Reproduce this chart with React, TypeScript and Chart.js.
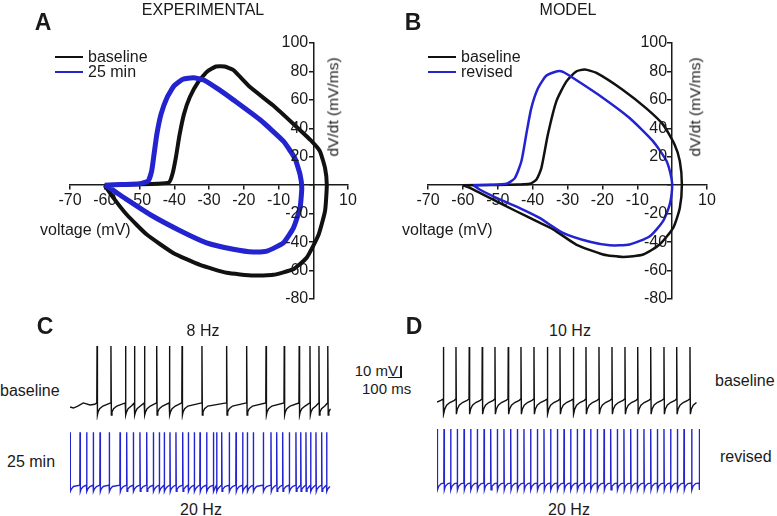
import React, { useEffect, useRef } from 'react';
import { Chart, registerables } from 'chart.js';
Chart.register(...registerables);

// ---------------- DATA ----------------
// Phase plots (voltage in mV, dV/dt in mV/ms)
const PHASE_X_TICKS = [-70, -60, -50, -40, -30, -20, -10, 0, 10];
const PHASE_Y_TICKS = [-80, -60, -40, -20, 0, 20, 40, 60, 80, 100];

const A_BASELINE_V = [-60, -55, -50, -45, -41.5, -40.5, -39.5, -38.5, -37.2, -35.5, -33, -30.5, -28, -25.5, -23, -18.2, -11.5, -5.7, -0.5, 1.9, 3.4, 3.9, 3.4, 1.5, -1.9, -5.7, -11.5, -17.2, -24.9, -32.6, -40.3, -47.9, -53.7, -57.5, -60];
const A_BASELINE_DVDT = [0, 0.3, 0.6, 1, 2, 8, 20, 35, 50, 62, 73, 80, 83.5, 83.5, 81, 69, 56, 43, 31, 24, 12, 0, -18, -35, -51, -59, -63, -63.5, -61.6, -56, -47.6, -34.7, -20.6, -8.9, 0];
const A_25MIN_V = [-60, -55, -50, -47.5, -46.5, -45.8, -45, -43.8, -42, -40, -37.5, -34.5, -31.5, -27, -23, -15.3, -8.6, -5.3, -3.8, -3.3, -3.8, -5.7, -8.6, -13.4, -17.2, -23, -30.7, -38.3, -47, -53.7, -58.5, -60];
const A_25MIN_DVDT = [0, 0.5, 1, 3, 10, 22, 36, 50, 62, 70, 74.5, 75.5, 74, 67, 60, 46, 31, 19, 7.5, -2, -16, -30, -40.5, -46.4, -47, -45, -40.5, -32, -20.6, -10, -2, 0];

const B_BASELINE_V = [-60, -50, -44, -40.8, -38.9, -37.5, -35.6, -33.2, -30.3, -27.5, -25.1, -21.7, -14.1, -7.4, -2.6, 0.7, 2.2, 2.8, 2.2, 0.3, -3.6, -8.3, -14.1, -19.8, -27.5, -34.1, -38.9, -44.7, -52.3, -58, -60];
const B_BASELINE_DVDT = [0, 0.2, 0.5, 1, 4, 12, 36, 59, 73, 80, 81.3, 79, 67, 54, 42.6, 28.6, 17, 0.5, -16, -30, -41.7, -48.7, -50.4, -48.7, -41.7, -31, -25.3, -18.3, -8.9, -1.9, 0];
const B_REVISED_V = [-57, -52, -47.5, -45.1, -43.2, -41.8, -40.4, -38.5, -36.1, -33.2, -31.3, -27.5, -19.8, -12.2, -5.5, -1.6, -0.2, 0, -0.7, -2.6, -6.4, -12.2, -17.9, -23.6, -31.3, -38, -42.8, -49.4, -55.2, -57];
const B_REVISED_DVDT = [0, 0.3, 1, 5, 17, 36, 54, 68, 77, 80, 79.7, 74, 61.4, 47.3, 31, 17, 5, -2, -13.6, -25.3, -35.9, -41.7, -42.2, -39.8, -33.5, -23, -17.1, -10, -3, 0];

// Spike trains (spike times in ms)
const TRACE_DURATION_MS = 2023;
const C_BASELINE_SPIKES = [208, 315, 427, 496, 573, 667, 765, 862, 1015, 1205, 1359, 1508, 1648, 1763, 1846, 1915, 1983];
const C_25MIN_SPIKES = [2, 77, 128, 179, 231, 302, 385, 436, 487, 538, 590, 641, 687, 725, 769, 815, 867, 910, 956, 1000, 1051, 1103, 1128, 1167, 1225, 1277, 1328, 1364, 1410, 1487, 1546, 1590, 1636, 1687, 1738, 1775, 1815, 1851, 1892, 1936, 1974];
const D_BASELINE_SPIKES = [49, 146, 248, 348, 446, 548, 646, 746, 849, 946, 1049, 1146, 1246, 1346, 1446, 1544, 1644, 1746, 1844, 1946];
const D_REVISED_SPIKES = [3, 54, 105, 156, 208, 259, 310, 362, 413, 464, 515, 567, 618, 669, 720, 772, 823, 874, 926, 977, 1028, 1079, 1131, 1182, 1233, 1285, 1336, 1387, 1438, 1490, 1541, 1592, 1644, 1695, 1746, 1797, 1849, 1900, 1959, 2018];

// Spike waveforms: [ms offset from spike peak, mV]
const C_BASELINE_SHAPE = [[-2, -44], [0, 19.5], [3, -57.5], [8, -54], [20, -50.5], [45, -47.5]];
const C_BASELINE_START = [[0, -48.5], [26, -49.7], [60, -47.5], [102, -44], [154, -46.3], [190, -45.5]];
const C_25MIN_SHAPE = [[-1.5, -51], [0, 8], [2.5, -58], [8, -55.5], [25, -52.5]];
const C_25MIN_START = [[0, -52]];
const D_BASELINE_SHAPE = [[-2, -38.5], [0, 19.5], [3, -55.5], [10, -50], [25, -45.5], [50, -42.5], [85, -40]];
const D_BASELINE_START = [[0, -42], [30, -40]];
const D_REVISED_SHAPE = [[-1.5, -52.5], [0, 8], [2.5, -60], [10, -56], [30, -53]];
const D_REVISED_START = [[0, -54]];

// ---------------- STYLE ----------------
const FONT = '"Liberation Sans", Arial, Helvetica, sans-serif';
const INK = '#1a1a1a';
const BLUE = '#2323cf';
const PX_PER_MV = 0.896;
const PX_PER_MS = 0.13;

type Pt = { x: number; y: number };

function pairUp(xs: number[], ys: number[]): Pt[] {
  return xs.map((x, i) => ({ x, y: ys[i] }));
}

function buildTrace(spikes: number[], shape: number[][], start: number[][], end: number): Pt[] {
  const pts: Pt[] = [];
  const firstT = spikes[0] + shape[0][0];
  start.forEach(([t, v]) => { if (t < firstT) pts.push({ x: t, y: v }); });
  spikes.forEach((ts, i) => {
    const limit = i < spikes.length - 1 ? spikes[i + 1] + shape[0][0] : end + 0.001;
    shape.forEach(([dt, v]) => {
      const t = ts + dt;
      if (t >= 0 && t < limit && t <= end) pts.push({ x: t, y: v });
    });
  });
  return pts;
}

// Draws the y tick labels to the left of the centred y axis
const yTickLabels = {
  id: 'yTickLabels',
  afterDraw(chart: any) {
    const { ctx, scales } = chart;
    const xs = scales.x;
    const ys = scales.y;
    const x0 = xs.getPixelForValue(0);
    ctx.save();
    ctx.font = `16px ${FONT}`;
    ctx.fillStyle = INK;
    ctx.textAlign = 'right';
    ctx.textBaseline = 'middle';
    ys.ticks.forEach((t: any) => {
      if (t.value !== 0) ctx.fillText(String(t.value), x0 - 5, ys.getPixelForValue(t.value));
    });
    ctx.restore();
  },
};

function phaseConfig(datasets: any[], pad: any) {
  const tickFont = { family: FONT, size: 16 };
  const hideZero = (v: any) => (Number(v) === 0 ? '' : String(v));
  return {
    type: 'scatter',
    data: { datasets },
    plugins: [yTickLabels],
    options: {
      animation: false,
      responsive: false,
      maintainAspectRatio: false,
      layout: { padding: pad },
      plugins: { legend: { display: false }, tooltip: { enabled: false } },
      elements: { point: { radius: 0 } },
      scales: {
        x: {
          type: 'linear', min: -70, max: 10, position: { y: 0 },
          afterBuildTicks: (s: any) => { s.ticks = PHASE_X_TICKS.map((value) => ({ value })); },
          ticks: { font: tickFont, color: INK, padding: 2, callback: hideZero, maxRotation: 0, autoSkip: false },
          grid: { drawOnChartArea: false, drawTicks: true, tickLength: 4, color: INK, lineWidth: 1.5 },
          border: { color: INK, width: 1.5 },
        },
        y: {
          type: 'linear', min: -80, max: 100, position: { x: 0 },
          afterBuildTicks: (s: any) => { s.ticks = PHASE_Y_TICKS.map((value) => ({ value })); },
          ticks: { display: false },
          grid: { drawOnChartArea: false, drawTicks: true, tickLength: 4, color: INK, lineWidth: 1.5 },
          border: { color: INK, width: 1.5 },
        },
      },
    },
  };
}

function traceConfig(points: Pt[], color: string, width: number, height: number, yMax: number) {
  return {
    type: 'line',
    data: { datasets: [{ data: points, borderColor: color, borderWidth: 1.4, pointRadius: 0, tension: 0, fill: false, clip: 4 }] },
    options: {
      animation: false,
      responsive: false,
      maintainAspectRatio: false,
      parsing: false,
      layout: { padding: 0 },
      plugins: { legend: { display: false }, tooltip: { enabled: false } },
      scales: {
        x: { type: 'linear', display: false, min: 0, max: width / PX_PER_MS },
        y: { type: 'linear', display: false, min: yMax - height / PX_PER_MV, max: yMax },
      },
    },
  };
}

function ChartBox({ x, y, w, h, make }: { x: number; y: number; w: number; h: number; make: () => any }) {
  const ref = useRef<HTMLCanvasElement>(null);
  useEffect(() => {
    const chart = new Chart(ref.current as HTMLCanvasElement, make());
    return () => chart.destroy();
  }, []);
  return (
    <canvas
      ref={ref}
      width={w}
      height={h}
      style={{ position: 'absolute', left: x, top: y, width: w, height: h }}
    />
  );
}

function Txt({ x, y, children, size = 16, bold = false, align = 'center', rotate = false }: any) {
  const tx = align === 'center' ? '-50%' : align === 'right' ? '-100%' : '0';
  return (
    <div
      style={{
        position: 'absolute', left: x, top: y, whiteSpace: 'nowrap',
        fontFamily: FONT, fontSize: size, fontWeight: bold ? 700 : 400, color: INK, lineHeight: 1,
        transform: `translate(${tx}, -50%)${rotate ? ' rotate(-90deg)' : ''}`,
      }}
    >
      {children}
    </div>
  );
}

function LegendRow({ x, y, color, label }: { x: number; y: number; color: string; label: string }) {
  return (
    <>
      <div style={{ position: 'absolute', left: x, top: y - 1, width: 28, height: 2, background: color }} />
      <Txt x={x + 33} y={y} align="left">{label}</Txt>
    </>
  );
}

export default function App() {
  const aData = () => phaseConfig([
    { data: pairUp(A_25MIN_V, A_25MIN_DVDT), borderColor: BLUE, borderWidth: 5, showLine: true, tension: 0.15, order: 0 },
    { data: pairUp(A_BASELINE_V, A_BASELINE_DVDT), borderColor: '#111', borderWidth: 4, showLine: true, tension: 0.15, order: 1 },
  ], { left: 70, right: 37, top: 43, bottom: 11 });

  const bData = () => phaseConfig([
    { data: pairUp(B_REVISED_V, B_REVISED_DVDT), borderColor: BLUE, borderWidth: 2.5, showLine: true, tension: 0.2, order: 0 },
    { data: pairUp(B_BASELINE_V, B_BASELINE_DVDT), borderColor: '#111', borderWidth: 2.5, showLine: true, tension: 0.2, order: 1 },
  ], { left: 38, right: 70, top: 43, bottom: 11 });

  return (
    <div style={{ position: 'absolute', left: 0, top: 0, width: 777, height: 516, background: '#fff', overflow: 'hidden' }}>
      {/* Panel A */}
      <ChartBox x={0} y={0} w={385} h={310} make={aData} />
      <Txt x={43} y={22} size={23} bold>A</Txt>
      <Txt x={203} y={10}>EXPERIMENTAL</Txt>
      <Txt x={333} y={107} size={15.5} rotate>dV/dt (mV/ms)</Txt>
      <Txt x={40} y={230} align="left">voltage (mV)</Txt>
      <LegendRow x={55} y={57} color="#111" label="baseline" />
      <LegendRow x={55} y={72} color={BLUE} label="25 min" />

      {/* Panel B */}
      <ChartBox x={390} y={0} w={387} h={310} make={bData} />
      <Txt x={413} y={22} size={23} bold>B</Txt>
      <Txt x={568} y={10}>MODEL</Txt>
      <Txt x={695} y={107} size={15.5} rotate>dV/dt (mV/ms)</Txt>
      <Txt x={402} y={230} align="left">voltage (mV)</Txt>
      <LegendRow x={428} y={57} color="#111" label="baseline" />
      <LegendRow x={428} y={72} color={BLUE} label="revised" />

      {/* Panel C */}
      <Txt x={45} y={326} size={23} bold>C</Txt>
      <Txt x={203} y={331}>8 Hz</Txt>
      <Txt x={201} y={510}>20 Hz</Txt>
      <Txt x={0} y={391} align="left">baseline</Txt>
      <Txt x={7} y={462} align="left">25 min</Txt>
      <ChartBox x={70} y={342} w={263} h={78}
        make={() => traceConfig(buildTrace(C_BASELINE_SPIKES, C_BASELINE_SHAPE, C_BASELINE_START, TRACE_DURATION_MS), '#111', 263, 78, 24)} />
      <ChartBox x={70} y={429} w={263} h={68}
        make={() => traceConfig(buildTrace(C_25MIN_SPIKES, C_25MIN_SHAPE, C_25MIN_START, TRACE_DURATION_MS), BLUE, 263, 68, 11.66)} />

      {/* Scale bar */}
      <Txt x={398} y={370} size={15} align="right">10 mV</Txt>
      <Txt x={362} y={388} size={15} align="left">100 ms</Txt>
      <div style={{ position: 'absolute', left: 400, top: 366, width: 1.5, height: 11.5, background: INK }} />
      <div style={{ position: 'absolute', left: 388, top: 376.5, width: 13.5, height: 1.5, background: INK }} />

      {/* Panel D */}
      <Txt x={414} y={326} size={23} bold>D</Txt>
      <Txt x={570} y={331}>10 Hz</Txt>
      <Txt x={569} y={510}>20 Hz</Txt>
      <Txt x={715} y={381} align="left">baseline</Txt>
      <Txt x={720} y={457} align="left">revised</Txt>
      <ChartBox x={437} y={343} w={263} h={75}
        make={() => traceConfig(buildTrace(D_BASELINE_SPIKES, D_BASELINE_SHAPE, D_BASELINE_START, TRACE_DURATION_MS), '#111', 263, 75, 24)} />
      <ChartBox x={437} y={425} w={263} h={70}
        make={() => traceConfig(buildTrace(D_REVISED_SPIKES, D_REVISED_SHAPE, D_REVISED_START, TRACE_DURATION_MS), BLUE, 263, 70, 12.4)} />
    </div>
  );
}
